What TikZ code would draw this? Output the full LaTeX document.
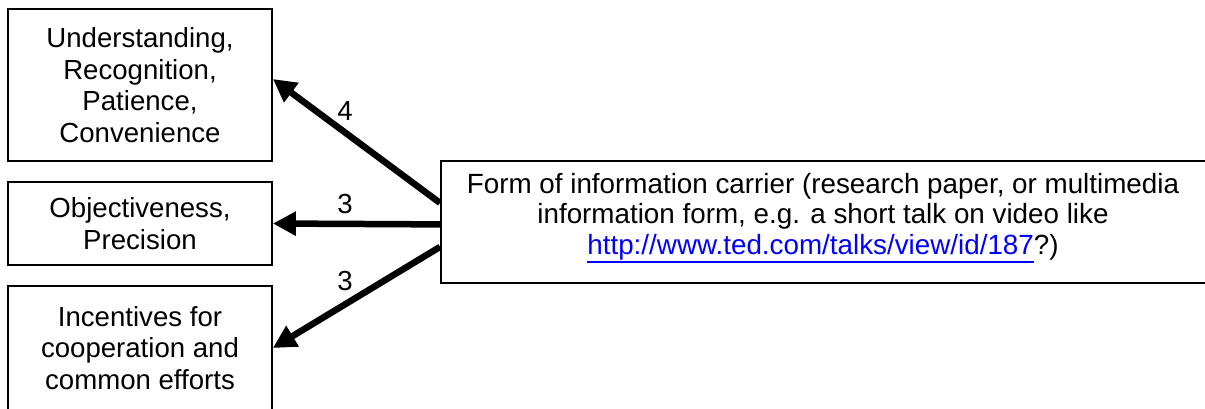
\documentclass[tikz,border=0pt]{standalone}
\usepackage{fontspec}
\setmainfont{Liberation Sans}
\usetikzlibrary{arrows.meta}
\definecolor{linkblue}{RGB}{0,0,255}
\newcommand\linkul[1]{\setbox0\hbox{#1}\rlap{\rule[-9pt]{\wd0}{2pt}}\box0}
\begin{document}
\begin{tikzpicture}[x=1pt,y=-1pt,
  box/.style={draw, line width=1.8pt, align=center, inner sep=0pt, font=\fontsize{27.6}{31.5}\selectfont},
  txt/.style={align=center, inner sep=0pt, font=\fontsize{27.8}{30.5}\selectfont},
  lbl/.style={font=\fontsize{27.6}{31}\selectfont, inner sep=0pt},
  conn/.style={line width=6.5pt, -{Triangle[length=23pt,width=23pt]}}]
\useasboundingbox (0,0) rectangle (1205,408);
\clip (0,0) rectangle (1205,408);
\node[box, minimum width=264pt, minimum height=152pt] (b1) at (140,85) {Understanding,\\Recognition,\\Patience,\\Convenience};
\node[box, minimum width=264pt, minimum height=83pt] (b2) at (140,223.5) {Objectiveness,\\Precision};
\node[box, minimum width=264pt, minimum height=124pt] (b3) at (140,348) {Incentives for\\cooperation and\\common efforts};
\node[draw, line width=1.8pt, minimum width=770pt, minimum height=122pt, inner sep=0pt, anchor=north west] (carrier) at (440,160) {};
\node[txt] (carriertext) at (823,218) {Form of information carrier (research paper, or multimedia\\information form, e.g. a short talk on video like\\{\color{linkblue}\linkul{http://www.ted.com/talks/view/id/187}}?)};
\draw[conn] ([yshift=19pt]carrier.west) -- ([yshift=6pt]b1.east);
\draw[conn] ([yshift=-2.5pt]carrier.west) -- (b2.east);
\draw[conn] ([yshift=-25pt]carrier.west) -- (b3.east);
\node[lbl] (l4) at (345,111) {4};
\node[lbl] (l3a) at (345,204) {3};
\node[lbl] (l3b) at (345,281) {3};
\end{tikzpicture}
\end{document}
